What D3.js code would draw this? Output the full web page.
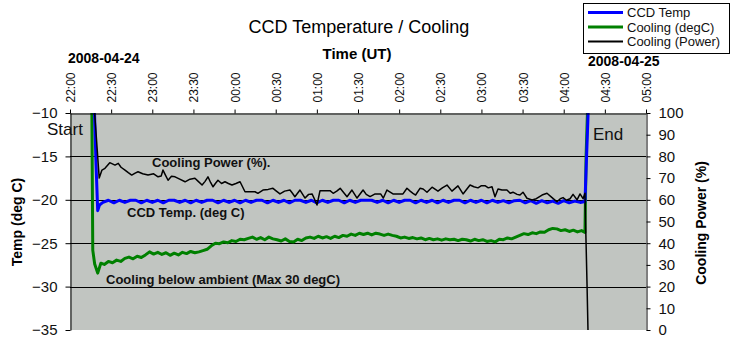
<!DOCTYPE html>
<html>
<head>
<meta charset="utf-8">
<script src="https://cdn.jsdelivr.net/npm/d3@7/dist/d3.min.js"></script>
<style>
html,body{margin:0;padding:0;background:#fff;}
svg{display:block;font-family:"Liberation Sans",Arial,sans-serif;}
</style>
</head>
<body>
<svg id="chart" width="732" height="356"></svg>
<script>
// ---- tick labels / axes ----
const timeTickMinutes = [0,30,60,90,120,150,180,210,240,270,300,330,360,390,420]; // minutes after 22:00 UT
const timeTickLabels = ["22:00","22:30","23:00","23:30","00:00","00:30","01:00","01:30","02:00","02:30","03:00","03:30","04:00","04:30","05:00"];
const tempTicks = [-35,-30,-25,-20,-15,-10];
const powerTicks = [0,10,20,30,40,50,60,70,80,90,100];
const seriesNames = ["CCD Temp","Cooling (degC)","Cooling (Power)"];
const seriesColors = ["#0000ff","#008000","#000000"];

// ---- CCD Temp (deg C), time in minutes after 22:00 ----
const ccdTime = [17.5,19,20.2,21.5,
  24,28,32,36,40,44,48,52,56,60,
  64,68,72,76,80,84,88,92,96,100,
  104,108,112,116,120,124,128,132,136,140,
  144,148,152,156,160,164,168,172,176,180,
  184,188,192,196,200,204,208,212,216,220,
  224,228,232,236,240,244,248,252,256,260,
  264,268,272,276,280,284,288,292,296,300,
  304,308,312,316,320,324,328,332,336,340,
  344,348,352,356,360,364,368,372,
  375.5,377.8,379.5];
const ccdTemp = [-8,-16,-21.25,-20.6,
  -20.3,-20.05,-20.35,-20.05,-20.3,-20.05,-20.05,-20.35,-20.05,-20.3,
  -20.05,-20.35,-20.05,-20.05,-20.3,-20.05,-20.35,-20.05,-20.3,-20.05,
  -20.05,-20.35,-20.05,-20.3,-20.05,-20.35,-20.05,-20.3,-20.05,-20.05,
  -20.35,-20.05,-20.3,-20.05,-20.35,-20.05,-20.05,-20.3,-20.05,-20.35,
  -20.05,-20.3,-20.05,-20.05,-20.35,-20.05,-20.3,-20.05,-20.05,-20.05,
  -20.3,-20.05,-20.35,-20.05,-20.3,-20.05,-20.05,-20.35,-20.05,-20.3,
  -20.05,-20.35,-20.05,-20.3,-20.05,-20.05,-20.35,-20.05,-20.3,-20.05,
  -20.35,-20.05,-20.3,-20.1,-20.35,-20.1,-20.05,-20.35,-20.1,-20.4,
  -20.1,-20.35,-20.15,-20.4,-20.1,-20.35,-20.15,-20.3,
  -20.2,-10,-4];

// ---- Cooling below ambient (deg C) ----
const coolTime = [15.8,16.6,18,20.2,22.5,25,28,31,34,37,
  40,43,46,49,52,55,58,61,64,67,
  70,73,76,79,82,85,88,91,94,97,
  100,103,106,109,112,115,118,121,124,127,
  130,133,136,139,142,145,148,151,154,157,
  160,163,166,169,172,175,178,181,184,187,
  190,193,196,199,202,205,208,211,214,217,
  220,223,226,229,232,235,238,241,244,247,
  250,253,256,259,262,265,268,271,274,277,
  280,283,286,289,292,295,298,301,304,307,
  310,313,316,319,322,325,328,331,334,337,
  340,343,346,349,352,355,358,361,364,367,
  370,373,375.5,376.3,377.5,378.5];
const coolTemp = [-6,-25.8,-27.4,-28.45,-27.3,-27.45,-27.1,-27.25,-26.95,-27.1,
  -26.75,-26.6,-26.8,-26.5,-26.65,-26.35,-26.0,-26.25,-26.05,-26.3,
  -26.1,-26.4,-26.15,-26.35,-26.05,-26.2,-25.95,-26.1,-26.0,-25.85,
  -25.7,-25.3,-25.0,-25.05,-24.85,-24.95,-24.7,-24.8,-24.55,-24.6,
  -24.45,-24.3,-24.55,-24.35,-24.6,-24.3,-24.5,-24.6,-24.75,-24.5,
  -24.8,-24.85,-24.55,-24.7,-24.4,-24.3,-24.45,-24.2,-24.4,-24.25,
  -24.45,-24.2,-24.35,-24.1,-24.2,-23.95,-24.1,-23.85,-24.0,-23.85,
  -24.05,-23.85,-23.95,-24.1,-23.95,-24.1,-24.2,-24.4,-24.3,-24.45,
  -24.35,-24.5,-24.4,-24.6,-24.45,-24.6,-24.5,-24.65,-24.5,-24.6,
  -24.55,-24.7,-24.55,-24.6,-24.75,-24.55,-24.7,-24.6,-24.8,-24.7,
  -24.85,-24.55,-24.6,-24.4,-24.5,-24.3,-24.1,-23.9,-24.0,-23.8,
  -23.9,-23.7,-23.75,-23.45,-23.3,-23.35,-23.55,-23.45,-23.65,-23.5,
  -23.7,-23.55,-23.75,-15,-9,-5];

// ---- Cooling power (%) ----
const powerTime = [17.5,19.3,21.3,23.3,25.5,29,32.8,35.2,37.2,40.1,
  42.5,45,47.5,49.6,53,56.9,61,64.2,66.5,67.8,
  69.5,71.5,74,76.6,80,83.9,87.5,91.1,93.5,96.3,
  98.5,100.6,102.5,104.3,106,107.9,110.5,113,115.5,118.1,
  121,124,125.8,127.6,134.9,137,140.7,144.5,148,150.5,
  153.1,156.5,160.4,162.2,164,167.7,171.4,174,176.5,178.5,
  180.1,182.3,189.6,191.9,194.5,197,202,205.6,209.3,213.7,
  216,218.8,222.5,226.5,228.5,231.1,235.5,242.8,245.7,248,
  250.1,252,255.2,257.5,260.3,264,268.3,271.5,274.9,278.5,
  282.9,286.6,291.7,294.5,297.5,300,302.6,305,307.7,309.9,
  312.1,315,318.6,321,323,326,328.1,330.3,333.2,336.9,
  340,344.2,347.8,351.5,355.1,357.5,359.5,362,364.6,366.8,
  369.7,371.9,374.1,375.5,376.3,377,377.7];
const powerPct = [104,88,70,73.7,74.5,77.1,76,76.8,75,73.7,
  72.5,71.4,72.3,72.9,72,71.4,72,70.6,71,73.7,
  71.5,69,70.8,70.6,69.5,68.3,69.5,69.9,68.5,66.8,
  68.5,70.6,68,66,67.5,69,67.5,68.3,67.5,66.8,
  67.5,68.3,66,63.7,63.7,63,64.5,64.8,65.3,64,
  62.7,64,64.5,63,61.4,64.5,60.8,62.5,62.7,60,
  57.6,64.2,64.2,63,64,65.3,61.4,64.5,60.8,64.5,
  62.5,61.5,62.7,62.7,60.8,64.5,62.7,62.7,65.3,64,
  63,62.2,65.3,65,63.5,65.8,64,65.5,66.8,64,
  66.4,62.7,66.8,66,65.5,66.5,66.5,65.5,66,61.4,
  65,64.5,64.5,63,63.5,62.5,62.2,63.5,60.7,59.9,
  60.5,62.2,63,61,59.1,60.5,61,59.8,60.5,62.5,
  60,62.7,60.5,63,40,21,0];

// ---- drawing ----
const svg = d3.select("#chart");
const L = 70, R = 646, T = 113, B = 330;
const font = '"Liberation Sans",Arial,sans-serif';

const x = d3.scaleLinear().domain([0,420]).range([L,R]);
const yT = d3.scaleLinear().domain([-35,-10]).range([B,T]);
const yP = d3.scaleLinear().domain([0,100]).range([B,T]);

svg.append("defs").append("clipPath").attr("id","plotclip")
  .append("rect").attr("x",L).attr("y",T).attr("width",R-L).attr("height",B-T);

svg.append("rect").attr("x",L).attr("y",T).attr("width",R-L).attr("height",B-T)
  .attr("fill","#c1c5c1");

// gridlines
svg.append("g").selectAll("line").data(tempTicks.filter(v=>v>-35 && v<-10)).join("line")
  .attr("x1",L).attr("x2",R)
  .attr("y1",d=>Math.round(yT(d))+0.5).attr("y2",d=>Math.round(yT(d))+0.5)
  .attr("stroke","#000").attr("stroke-width",1);

// series
const plot = svg.append("g").attr("clip-path","url(#plotclip)");
const lineT = d3.line().x(d=>x(d[0])).y(d=>yT(d[1]));
const lineP = d3.line().x(d=>x(d[0])).y(d=>yP(d[1]));
plot.append("path").datum(d3.zip(coolTime,coolTemp)).attr("d",lineT)
  .attr("fill","none").attr("stroke",seriesColors[1]).attr("stroke-width",3).attr("stroke-linejoin","round");
plot.append("path").datum(d3.zip(ccdTime,ccdTemp)).attr("d",lineT)
  .attr("fill","none").attr("stroke",seriesColors[0]).attr("stroke-width",3).attr("stroke-linejoin","round");
plot.append("path").datum(d3.zip(powerTime,powerPct)).attr("d",lineP)
  .attr("fill","none").attr("stroke",seriesColors[2]).attr("stroke-width",1.5).attr("stroke-linejoin","round");

// axes
const xAxis = svg.append("g").attr("transform",`translate(0,${T+0.5})`)
  .call(d3.axisTop(x).tickValues(timeTickMinutes).tickFormat((d,i)=>timeTickLabels[i]).tickSize(4).tickSizeOuter(0));
xAxis.selectAll("text").attr("transform","translate(4.5,-11) rotate(-90)")
  .attr("x",0).attr("y",0).attr("dy",0).attr("text-anchor","start")
  .attr("font-size",12).attr("font-family",font).attr("fill","#111");

const yAxisL = svg.append("g").attr("transform",`translate(${L+0.5},0)`)
  .call(d3.axisLeft(yT).tickValues(tempTicks).tickSize(5).tickPadding(8).tickSizeOuter(0));
yAxisL.selectAll("text").attr("font-size",15).attr("font-family",font).attr("fill","#111");

const yAxisR = svg.append("g").attr("transform",`translate(${R+0.5},0)`)
  .call(d3.axisRight(yP).tickValues(powerTicks).tickSize(4).tickPadding(8).tickSizeOuter(0));
yAxisR.selectAll("text").attr("font-size",15).attr("font-family",font).attr("fill","#111");

svg.selectAll(".domain").attr("stroke","#000");
svg.selectAll(".tick line").attr("stroke","#000");

// titles
svg.append("text").attr("x",359).attr("y",33).attr("text-anchor","middle")
  .attr("font-size",18).attr("font-family",font).text("CCD Temperature / Cooling");
svg.append("text").attr("x",357).attr("y",59).attr("text-anchor","middle")
  .attr("font-size",15).attr("font-weight","bold").attr("font-family",font).text("Time (UT)");
svg.append("text").attr("x",68).attr("y",63)
  .attr("font-size",14).attr("font-weight","bold").attr("font-family",font).text("2008-04-24");
svg.append("text").attr("x",588).attr("y",66)
  .attr("font-size",14).attr("font-weight","bold").attr("font-family",font).text("2008-04-25");
svg.append("text").attr("transform","translate(22,222) rotate(-90)").attr("text-anchor","middle")
  .attr("font-size",14).attr("font-weight","bold").attr("font-family",font).text("Temp (deg C)");
svg.append("text").attr("transform","translate(705.5,223) rotate(-90)").attr("text-anchor","middle")
  .attr("font-size",14).attr("font-weight","bold").attr("font-family",font).text("Cooling Power (%)");

// annotations
const ann = [
  {t:"Start", x:47, y:135, s:17, w:"normal"},
  {t:"End", x:593, y:140, s:17, w:"normal"},
  {t:"Cooling Power (%).", x:152, y:167, s:13, w:"bold"},
  {t:"CCD Temp. (deg C)", x:127, y:217, s:13, w:"bold"},
  {t:"Cooling below ambient (Max 30 degC)", x:106, y:284, s:13, w:"bold"}
];
svg.append("g").selectAll("text").data(ann).join("text")
  .attr("x",d=>d.x).attr("y",d=>d.y).attr("font-size",d=>d.s).attr("font-weight",d=>d.w)
  .attr("font-family",font).attr("fill","#111").text(d=>d.t);

// legend
const lg = svg.append("g");
lg.append("rect").attr("x",583.5).attr("y",3.5).attr("width",146).attr("height",50)
  .attr("fill","#fff").attr("stroke","#000");
const lw = [3,3,2];
seriesNames.forEach((n,i)=>{
  const yy = 12.5 + i*14.5;
  lg.append("line").attr("x1",588).attr("x2",623).attr("y1",yy).attr("y2",yy)
    .attr("stroke",seriesColors[i]).attr("stroke-width",lw[i]);
  lg.append("text").attr("x",627).attr("y",yy+4.5).attr("font-size",13)
    .attr("font-family",font).attr("fill","#111").text(n);
});
</script>
</body>
</html>
